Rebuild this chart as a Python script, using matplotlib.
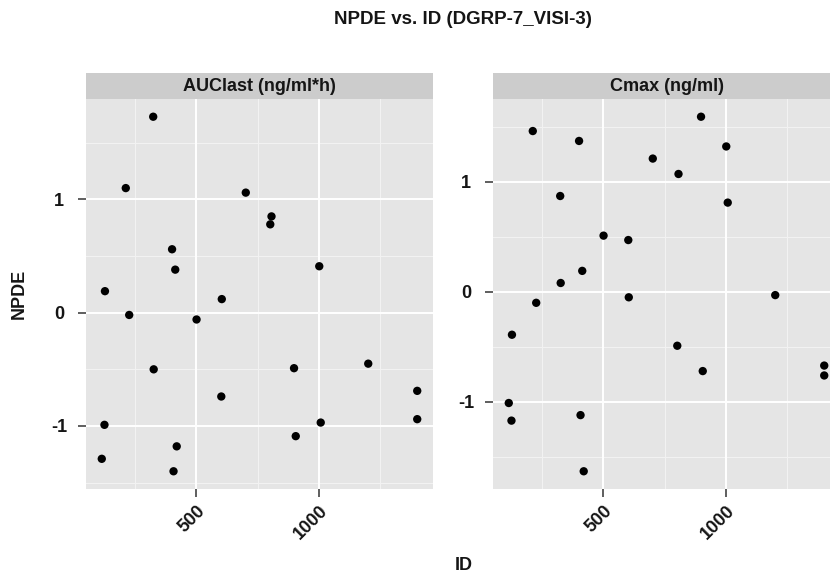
import matplotlib
matplotlib.use("Agg")
import matplotlib.pyplot as plt
import numpy as np

plt.rcParams['font.family'] = ['Liberation Sans', 'DejaVu Sans']

# ---- data ----
ids = [114, 125, 127, 212, 226, 324, 326, 401, 407, 414, 420, 501,
       602, 604, 702, 802, 807, 899, 906, 1002, 1008, 1202, 1402, 1402]
npde_auclast = [-1.29, -0.99, 0.19, 1.10, -0.02, 1.73, -0.50, 0.56, -1.40, 0.38, -1.18, -0.06,
                -0.74, 0.12, 1.06, 0.78, 0.85, -0.49, -1.09, 0.41, -0.97, -0.45, -0.69, -0.94]
npde_cmax = [-1.01, -1.17, -0.39, 1.46, -0.10, 0.87, 0.08, 1.37, -1.12, 0.19, -1.63, 0.51,
             0.47, -0.05, 1.21, -0.49, 1.07, 1.59, -0.72, 1.32, 0.81, -0.03, -0.67, -0.76]
panel_titles = ["AUClast (ng/ml*h)", "Cmax (ng/ml)"]
x_ticks = [500, 1000]
x_minor = [250, 750, 1250]
y_ticks = [-1, 0, 1]
y_minor = [-1.5, -0.5, 0.5, 1.5]
title = "NPDE vs. ID (DGRP-7_VISI-3)"
xlabel = "ID"
ylabel = "NPDE"

W, H = 830, 572
fig = plt.figure(figsize=(W / 100, H / 100), dpi=100)
TXT = '#151515'


def rect(x0, y0, x1, y1):
    return [x0 / W, 1 - y1 / H, (x1 - x0) / W, (y1 - y0) / H]


def expand(vals, frac=0.05):
    lo, hi = min(vals), max(vals)
    r = hi - lo
    return lo - frac * r, hi + frac * r


xlim = expand(ids)
panels = [(86, 433), (493, 840)]
series = [npde_auclast, npde_cmax]

for (x0, x1), vals, ptitle in zip(panels, series, panel_titles):
    ax = fig.add_axes(rect(x0, 99, x1, 489))
    ax.set_facecolor('#E5E5E5')
    for s in ax.spines.values():
        s.set_visible(False)
    ylim = expand(vals)
    ax.set_xlim(*xlim)
    ax.set_ylim(*ylim)
    for xm in x_minor:
        ax.axvline(xm, color='#F2F2F2', lw=0.8, zorder=1)
    for ym in y_minor:
        ax.axhline(ym, color='#F2F2F2', lw=0.8, zorder=1)
    for xt in x_ticks:
        ax.axvline(xt, color='white', lw=1.4, zorder=1.5)
    for yt in y_ticks:
        ax.axhline(yt, color='white', lw=1.4, zorder=1.5)
    ax.scatter(ids, vals, s=36, color='black', edgecolors='none', zorder=3)
    ax.set_xticks(x_ticks)
    ax.set_xticklabels([str(t) for t in x_ticks], rotation=45, ha='right',
                       va='top', rotation_mode='anchor',
                       fontsize=13, fontweight='bold', color=TXT)
    ax.set_yticks(y_ticks)
    ax.set_yticklabels([str(t) for t in y_ticks], fontsize=13,
                       fontweight='bold', color=TXT, ha='center')
    ax.tick_params(axis='both', length=5.8, width=1.1, color='#333333')
    ax.tick_params(axis='x', pad=4)
    ax.tick_params(axis='y', pad=13.4)

    sax = fig.add_axes(rect(x0, 73, x1, 99))
    sax.set_facecolor('#CCCCCC')
    for s in sax.spines.values():
        s.set_visible(False)
    sax.set_xticks([])
    sax.set_yticks([])
    sax.text(0.5, 0.5, ptitle, transform=sax.transAxes, ha='center',
             va='center', fontsize=13, fontweight='bold', color=TXT)

cx = (86 + 840) / 2 / W
fig.text(cx, 1 - 19 / H, title, ha='center', va='center', fontsize=13.5,
         fontweight='bold', color=TXT)
fig.text(464 / W, 1 - 565 / H, xlabel, ha='center', va='center', fontsize=13,
         fontweight='bold', color=TXT)
fig.text(19 / W, 1 - 294 / H, ylabel, ha='center', va='center', rotation=90,
         fontsize=13, fontweight='bold', color=TXT)

fig.savefig('out.png', dpi=100)
